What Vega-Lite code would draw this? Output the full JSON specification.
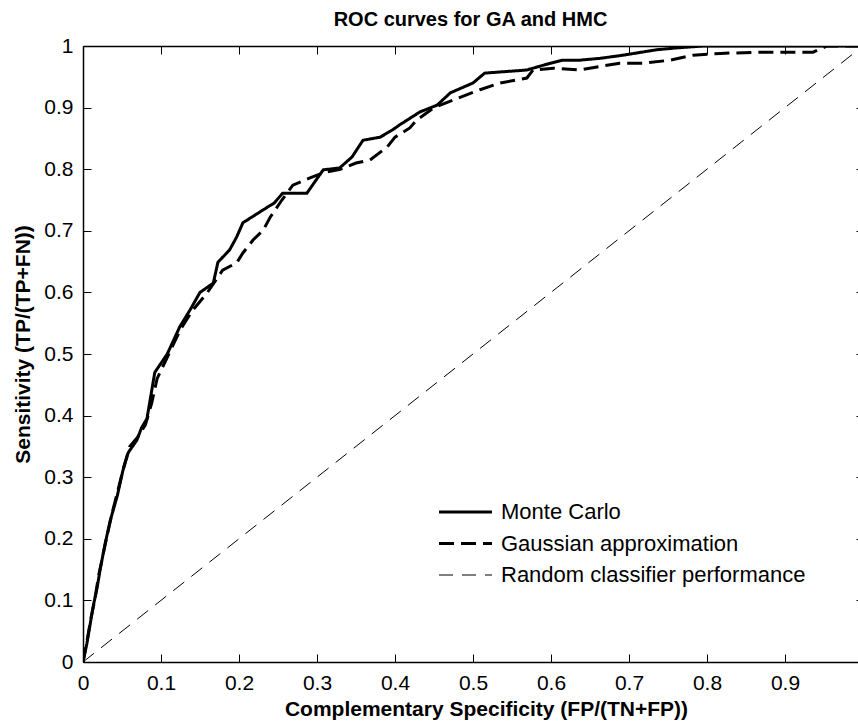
{
  "$schema": "https://vega.github.io/schema/vega-lite/v6.json",
  "autosize": {"type": "none"},
  "padding": {"left": 83, "top": 46, "right": 0, "bottom": 62},
  "width": 775,
  "height": 616,
  "background": "white",
  "title": {"text": "ROC curves for GA and HMC", "font": "Liberation Sans", "fontSize": 20, "fontWeight": "bold", "color": "black", "anchor": "middle", "offset": 5},
  "config": {
    "view": {"stroke": null},
    "axis": {"grid": false, "labelFlush": false, "labelOverlap": false, "tickColor": "black", "domainColor": "black", "labelColor": "black", "titleColor": "black"},
    "legend": {"orient": "none", "legendX": 371.5, "legendY": 455, "title": null, "symbolType": "M-5.3,0H5.3", "symbolSize": 100, "symbolStrokeColor": "black", "labelFont": "Liberation Sans", "labelFontSize": 22, "labelColor": "black", "labelOffset": 24.5, "labelLimit": 500, "padding": 0, "rowPadding": 9.5}
  },
  "datasets": {
    "roc": [
      {"series": "Random classifier performance", "fpr": 0, "tpr": 0},
      {"series": "Random classifier performance", "fpr": 1, "tpr": 1},
      {"series": "Gaussian approximation", "fpr": 0, "tpr": 0},
      {"series": "Gaussian approximation", "fpr": 0.006, "tpr": 0.04},
      {"series": "Gaussian approximation", "fpr": 0.01, "tpr": 0.07},
      {"series": "Gaussian approximation", "fpr": 0.015, "tpr": 0.1},
      {"series": "Gaussian approximation", "fpr": 0.02, "tpr": 0.14},
      {"series": "Gaussian approximation", "fpr": 0.025, "tpr": 0.17},
      {"series": "Gaussian approximation", "fpr": 0.03, "tpr": 0.2},
      {"series": "Gaussian approximation", "fpr": 0.037, "tpr": 0.24},
      {"series": "Gaussian approximation", "fpr": 0.045, "tpr": 0.28},
      {"series": "Gaussian approximation", "fpr": 0.053, "tpr": 0.32},
      {"series": "Gaussian approximation", "fpr": 0.06, "tpr": 0.35},
      {"series": "Gaussian approximation", "fpr": 0.07, "tpr": 0.365},
      {"series": "Gaussian approximation", "fpr": 0.08, "tpr": 0.385},
      {"series": "Gaussian approximation", "fpr": 0.088, "tpr": 0.42},
      {"series": "Gaussian approximation", "fpr": 0.095, "tpr": 0.46},
      {"series": "Gaussian approximation", "fpr": 0.11, "tpr": 0.5},
      {"series": "Gaussian approximation", "fpr": 0.125, "tpr": 0.54},
      {"series": "Gaussian approximation", "fpr": 0.14, "tpr": 0.57},
      {"series": "Gaussian approximation", "fpr": 0.159, "tpr": 0.599},
      {"series": "Gaussian approximation", "fpr": 0.179, "tpr": 0.636},
      {"series": "Gaussian approximation", "fpr": 0.197, "tpr": 0.648},
      {"series": "Gaussian approximation", "fpr": 0.205, "tpr": 0.664},
      {"series": "Gaussian approximation", "fpr": 0.218, "tpr": 0.685},
      {"series": "Gaussian approximation", "fpr": 0.231, "tpr": 0.701},
      {"series": "Gaussian approximation", "fpr": 0.24, "tpr": 0.722},
      {"series": "Gaussian approximation", "fpr": 0.255, "tpr": 0.75},
      {"series": "Gaussian approximation", "fpr": 0.269, "tpr": 0.774},
      {"series": "Gaussian approximation", "fpr": 0.291, "tpr": 0.786},
      {"series": "Gaussian approximation", "fpr": 0.31, "tpr": 0.795},
      {"series": "Gaussian approximation", "fpr": 0.33, "tpr": 0.8},
      {"series": "Gaussian approximation", "fpr": 0.35, "tpr": 0.81},
      {"series": "Gaussian approximation", "fpr": 0.368, "tpr": 0.815},
      {"series": "Gaussian approximation", "fpr": 0.39, "tpr": 0.836},
      {"series": "Gaussian approximation", "fpr": 0.4, "tpr": 0.852},
      {"series": "Gaussian approximation", "fpr": 0.419, "tpr": 0.867},
      {"series": "Gaussian approximation", "fpr": 0.428, "tpr": 0.88},
      {"series": "Gaussian approximation", "fpr": 0.45, "tpr": 0.9},
      {"series": "Gaussian approximation", "fpr": 0.48, "tpr": 0.915},
      {"series": "Gaussian approximation", "fpr": 0.509, "tpr": 0.929},
      {"series": "Gaussian approximation", "fpr": 0.535, "tpr": 0.94},
      {"series": "Gaussian approximation", "fpr": 0.569, "tpr": 0.948},
      {"series": "Gaussian approximation", "fpr": 0.577, "tpr": 0.961},
      {"series": "Gaussian approximation", "fpr": 0.603, "tpr": 0.964},
      {"series": "Gaussian approximation", "fpr": 0.637, "tpr": 0.961},
      {"series": "Gaussian approximation", "fpr": 0.659, "tpr": 0.966},
      {"series": "Gaussian approximation", "fpr": 0.688, "tpr": 0.972},
      {"series": "Gaussian approximation", "fpr": 0.718, "tpr": 0.972},
      {"series": "Gaussian approximation", "fpr": 0.753, "tpr": 0.977},
      {"series": "Gaussian approximation", "fpr": 0.782, "tpr": 0.985},
      {"series": "Gaussian approximation", "fpr": 0.817, "tpr": 0.988},
      {"series": "Gaussian approximation", "fpr": 0.868, "tpr": 0.99},
      {"series": "Gaussian approximation", "fpr": 0.936, "tpr": 0.99},
      {"series": "Gaussian approximation", "fpr": 0.954, "tpr": 1.0},
      {"series": "Gaussian approximation", "fpr": 1.0, "tpr": 1.0},
      {"series": "Monte Carlo", "fpr": 0, "tpr": 0},
      {"series": "Monte Carlo", "fpr": 0.005, "tpr": 0.03},
      {"series": "Monte Carlo", "fpr": 0.009, "tpr": 0.06},
      {"series": "Monte Carlo", "fpr": 0.013, "tpr": 0.09},
      {"series": "Monte Carlo", "fpr": 0.018, "tpr": 0.12},
      {"series": "Monte Carlo", "fpr": 0.022, "tpr": 0.15},
      {"series": "Monte Carlo", "fpr": 0.028, "tpr": 0.19},
      {"series": "Monte Carlo", "fpr": 0.035, "tpr": 0.23},
      {"series": "Monte Carlo", "fpr": 0.044, "tpr": 0.27},
      {"series": "Monte Carlo", "fpr": 0.051, "tpr": 0.31},
      {"series": "Monte Carlo", "fpr": 0.058, "tpr": 0.34},
      {"series": "Monte Carlo", "fpr": 0.069, "tpr": 0.36},
      {"series": "Monte Carlo", "fpr": 0.075, "tpr": 0.38},
      {"series": "Monte Carlo", "fpr": 0.082, "tpr": 0.395},
      {"series": "Monte Carlo", "fpr": 0.088, "tpr": 0.44},
      {"series": "Monte Carlo", "fpr": 0.092, "tpr": 0.47},
      {"series": "Monte Carlo", "fpr": 0.108, "tpr": 0.5},
      {"series": "Monte Carlo", "fpr": 0.124, "tpr": 0.544},
      {"series": "Monte Carlo", "fpr": 0.137, "tpr": 0.571},
      {"series": "Monte Carlo", "fpr": 0.15, "tpr": 0.6},
      {"series": "Monte Carlo", "fpr": 0.167, "tpr": 0.615},
      {"series": "Monte Carlo", "fpr": 0.173, "tpr": 0.649},
      {"series": "Monte Carlo", "fpr": 0.188, "tpr": 0.669},
      {"series": "Monte Carlo", "fpr": 0.197, "tpr": 0.69},
      {"series": "Monte Carlo", "fpr": 0.205, "tpr": 0.713},
      {"series": "Monte Carlo", "fpr": 0.231, "tpr": 0.734},
      {"series": "Monte Carlo", "fpr": 0.245, "tpr": 0.745},
      {"series": "Monte Carlo", "fpr": 0.256, "tpr": 0.761},
      {"series": "Monte Carlo", "fpr": 0.287, "tpr": 0.761},
      {"series": "Monte Carlo", "fpr": 0.308, "tpr": 0.799},
      {"series": "Monte Carlo", "fpr": 0.329, "tpr": 0.802},
      {"series": "Monte Carlo", "fpr": 0.345, "tpr": 0.82},
      {"series": "Monte Carlo", "fpr": 0.359, "tpr": 0.847},
      {"series": "Monte Carlo", "fpr": 0.381, "tpr": 0.852},
      {"series": "Monte Carlo", "fpr": 0.397, "tpr": 0.864},
      {"series": "Monte Carlo", "fpr": 0.406, "tpr": 0.872},
      {"series": "Monte Carlo", "fpr": 0.432, "tpr": 0.893},
      {"series": "Monte Carlo", "fpr": 0.454, "tpr": 0.904},
      {"series": "Monte Carlo", "fpr": 0.471, "tpr": 0.924},
      {"series": "Monte Carlo", "fpr": 0.5, "tpr": 0.94},
      {"series": "Monte Carlo", "fpr": 0.515, "tpr": 0.956},
      {"series": "Monte Carlo", "fpr": 0.569, "tpr": 0.961},
      {"series": "Monte Carlo", "fpr": 0.577, "tpr": 0.964},
      {"series": "Monte Carlo", "fpr": 0.599, "tpr": 0.972},
      {"series": "Monte Carlo", "fpr": 0.615, "tpr": 0.977},
      {"series": "Monte Carlo", "fpr": 0.637, "tpr": 0.977},
      {"series": "Monte Carlo", "fpr": 0.663, "tpr": 0.98},
      {"series": "Monte Carlo", "fpr": 0.692, "tpr": 0.985},
      {"series": "Monte Carlo", "fpr": 0.736, "tpr": 0.994},
      {"series": "Monte Carlo", "fpr": 0.762, "tpr": 0.997},
      {"series": "Monte Carlo", "fpr": 0.795, "tpr": 1.0},
      {"series": "Monte Carlo", "fpr": 1.0, "tpr": 1.0}
    ]
  },
  "data": {"name": "roc"},
  "layer": [
    {
      "mark": {"type": "line", "clip": true, "color": "black"},
      "encoding": {
        "x": {"field": "fpr", "type": "quantitative", "scale": {"domain": [0, 0.9936], "nice": false, "zero": false},
          "axis": {"orient": "bottom", "values": [0, 0.1, 0.2, 0.3, 0.4, 0.5, 0.6, 0.7, 0.8, 0.9], "format": "~g", "tickSize": -8, "domainWidth": 1.5, "labelFont": "Liberation Sans", "labelFontSize": 21, "labelPadding": 18, "labelBaseline": "top",
            "title": "Complementary Specificity (FP/(TN+FP))", "titleFont": "Liberation Sans", "titleFontSize": 21, "titleFontWeight": "bold", "titleX": 403, "titleY": 47, "titleBaseline": "middle", "titleAlign": "center"}},
        "y": {"field": "tpr", "type": "quantitative", "scale": {"domain": [0, 1], "nice": false},
          "axis": {"orient": "left", "values": [0, 0.1, 0.2, 0.3, 0.4, 0.5, 0.6, 0.7, 0.8, 0.9, 1], "format": "~g", "tickSize": -8, "domainWidth": 1.5, "labelFont": "Liberation Sans", "labelFontSize": 21, "labelPadding": 18,
            "title": "Sensitivity (TP/(TP+FN))", "titleFont": "Liberation Sans", "titleFontSize": 21, "titleFontWeight": "bold", "titleX": -60, "titleY": 298, "titleBaseline": "middle", "titleAlign": "center", "titleAngle": -90}},
        "strokeDash": {"field": "series", "type": "ordinal",
          "scale": {"domain": ["Monte Carlo", "Gaussian approximation", "Random classifier performance"], "range": [[1, 0], [15, 7], [14, 9]]}},
        "strokeWidth": {"field": "series", "type": "ordinal",
          "scale": {"type": "ordinal", "domain": ["Monte Carlo", "Gaussian approximation", "Random classifier performance"], "range": [3, 3, 1]}}
      }
    },
    {
      "transform": [{"filter": "datum.series === 'Random classifier performance'"}],
      "mark": {"type": "line", "opacity": 0, "clip": true},
      "encoding": {
        "x": {"field": "fpr", "type": "quantitative", "scale": {"domain": [0, 0.9936], "nice": false, "zero": false},
          "axis": {"orient": "top", "values": [0, 0.1, 0.2, 0.3, 0.4, 0.5, 0.6, 0.7, 0.8, 0.9], "labels": false, "tickSize": -8, "domainWidth": 1.5, "title": null}},
        "y": {"field": "tpr", "type": "quantitative", "scale": {"domain": [0, 1], "nice": false},
          "axis": {"orient": "right", "values": [0, 0.1, 0.2, 0.3, 0.4, 0.5, 0.6, 0.7, 0.8, 0.9, 1], "labels": false, "domain": false, "tickSize": -2, "title": null}}
      }
    }
  ],
  "resolve": {"axis": {"x": "independent", "y": "independent"}}
}
